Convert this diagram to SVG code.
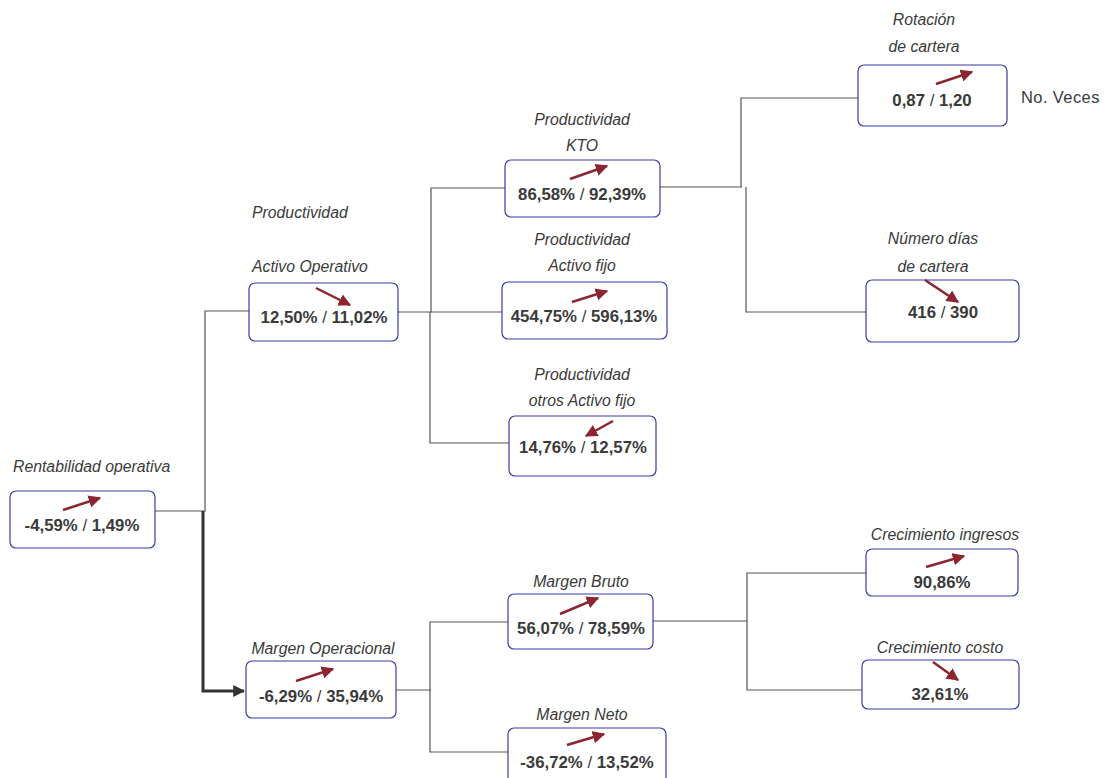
<svg xmlns="http://www.w3.org/2000/svg" width="1109" height="778" viewBox="0 0 1109 778">
<style>
.box{fill:#fff;stroke:#3b3ba6;stroke-width:1.2}
.lbl{font-family:"Liberation Sans",Arial,sans-serif;font-size:15.8px;font-style:italic;fill:#3a3a3a}
.val{font-family:"Liberation Sans",Arial,sans-serif;font-size:16.8px;font-weight:bold;fill:#3a3a3a;text-anchor:middle}
.plain{font-family:"Liberation Sans",Arial,sans-serif;font-size:16.5px;fill:#3a3a3a;letter-spacing:0.4px}
.mid{text-anchor:middle}
.ar{stroke:#8b2630;stroke-width:2.5;fill:none;marker-end:url(#rh)}
.con{stroke:#555;stroke-width:1.2;fill:none}
.thick{stroke:#333;stroke-width:3;fill:none;marker-end:url(#bh)}
</style>
<defs>
<marker id="rh" viewBox="0 0 10 10" refX="9" refY="5" markerWidth="5" markerHeight="5" orient="auto" markerUnits="strokeWidth">
<path d="M0,0 L10,5 L0,10 z" fill="#8b2630"/>
</marker>
<marker id="bh" viewBox="0 0 10 10" refX="9" refY="5" markerWidth="4" markerHeight="4" orient="auto" markerUnits="strokeWidth">
<path d="M0,0 L10,5 L0,10 z" fill="#333"/>
</marker>
</defs>
<rect width="1109" height="778" fill="#fff"/>
<g id="connectors">
<path class="con" d="M155,511 H205 V311 H249"/>
<path class="thick" d="M203,511 V691 H244"/>
<path class="con" d="M398,312 H431 V188 H505"/>
<path class="con" d="M431,312 H502"/>
<path class="con" d="M430,312 V443 H509"/>
<path class="con" d="M660,187 H742"/>
<path class="con" d="M741,187 V98 H858"/>
<path class="con" d="M746,187 V312 H866"/>
<path class="con" d="M396,690 H431"/>
<path class="con" d="M430,690 V622 H508"/>
<path class="con" d="M430,690 V752 H508"/>
<path class="con" d="M653,621 H747"/>
<path class="con" d="M747,621 V573 H866"/>
<path class="con" d="M747,621 V690 H862"/>
</g>
<g id="n-rentabilidad">
<text class="lbl" x="13" y="472">Rentabilidad operativa</text>
<rect class="box" x="10" y="491" width="145" height="57" rx="6"/>
<path class="ar" d="M63,510 L100,498"/>
<text class="val" x="82" y="531">-4,59% <tspan font-weight="normal">/</tspan> 1,49%</text>
</g>
<g id="n-activo-operativo">
<text class="lbl" x="252" y="218">Productividad</text>
<text class="lbl" x="252" y="272">Activo Operativo</text>
<rect class="box" x="249" y="283" width="149" height="58" rx="6"/>
<path class="ar" d="M316,288 L350,305"/>
<text class="val" x="324" y="323">12,50% <tspan font-weight="normal">/</tspan> 11,02%</text>
</g>
<g id="n-kto">
<text class="lbl mid" x="582" y="125">Productividad</text>
<text class="lbl mid" x="582" y="151">KTO</text>
<rect class="box" x="505" y="160" width="155" height="57" rx="6"/>
<path class="ar" d="M570,179 L607,166"/>
<text class="val" x="582" y="200">86,58% <tspan font-weight="normal">/</tspan> 92,39%</text>
</g>
<g id="n-activo-fijo">
<text class="lbl mid" x="582" y="245">Productividad</text>
<text class="lbl mid" x="582" y="271">Activo fijo</text>
<rect class="box" x="502" y="282" width="165" height="57" rx="6"/>
<path class="ar" d="M572,302 L607,291"/>
<text class="val" x="584" y="322">454,75% <tspan font-weight="normal">/</tspan> 596,13%</text>
</g>
<g id="n-otros-activo-fijo">
<text class="lbl mid" x="582" y="380">Productividad</text>
<text class="lbl mid" x="582" y="406">otros Activo fijo</text>
<rect class="box" x="509" y="416" width="147" height="60" rx="6"/>
<path class="ar" d="M613,421 L586,436"/>
<text class="val" x="583" y="453">14,76% <tspan font-weight="normal">/</tspan> 12,57%</text>
</g>
<g id="n-rotacion">
<text class="lbl mid" x="924" y="25">Rotación</text>
<text class="lbl mid" x="924" y="52">de cartera</text>
<rect class="box" x="858" y="65" width="149" height="61" rx="6"/>
<path class="ar" d="M936,84 L972,72"/>
<text class="val" x="932" y="106">0,87 <tspan font-weight="normal">/</tspan> 1,20</text>
<text class="plain" x="1021" y="103">No. Veces</text>
</g>
<g id="n-numero-dias">
<text class="lbl mid" x="933" y="244">Número días</text>
<text class="lbl mid" x="933" y="272">de cartera</text>
<rect class="box" x="866" y="280" width="153" height="62" rx="6"/>
<path class="ar" d="M925,280 L958,302"/>
<text class="val" x="943" y="318">416 <tspan font-weight="normal">/</tspan> 390</text>
</g>
<g id="n-margen-operacional">
<text class="lbl mid" x="323" y="654">Margen Operacional</text>
<rect class="box" x="246" y="661" width="150" height="57" rx="6"/>
<path class="ar" d="M296,681 L333,669"/>
<text class="val" x="321" y="702">-6,29% <tspan font-weight="normal">/</tspan> 35,94%</text>
</g>
<g id="n-margen-bruto">
<text class="lbl mid" x="581" y="587">Margen Bruto</text>
<rect class="box" x="508" y="594" width="145" height="55" rx="6"/>
<path class="ar" d="M560,614 L598,598"/>
<text class="val" x="581" y="634">56,07% <tspan font-weight="normal">/</tspan> 78,59%</text>
</g>
<g id="n-margen-neto">
<text class="lbl mid" x="582" y="720">Margen Neto</text>
<rect class="box" x="508" y="728" width="158" height="60" rx="6"/>
<path class="ar" d="M567,745 L604,734"/>
<text class="val" x="587" y="768">-36,72% <tspan font-weight="normal">/</tspan> 13,52%</text>
</g>
<g id="n-crecimiento-ingresos">
<text class="lbl mid" x="945" y="540">Crecimiento ingresos</text>
<rect class="box" x="866" y="549" width="152" height="47" rx="6"/>
<path class="ar" d="M926,567 L964,556"/>
<text class="val" x="942" y="588">90,86%</text>
</g>
<g id="n-crecimiento-costo">
<text class="lbl mid" x="940" y="653">Crecimiento costo</text>
<rect class="box" x="862" y="660" width="157" height="49" rx="6"/>
<path class="ar" d="M933,662 L958,680"/>
<text class="val" x="940" y="700">32,61%</text>
</g>
</svg>
